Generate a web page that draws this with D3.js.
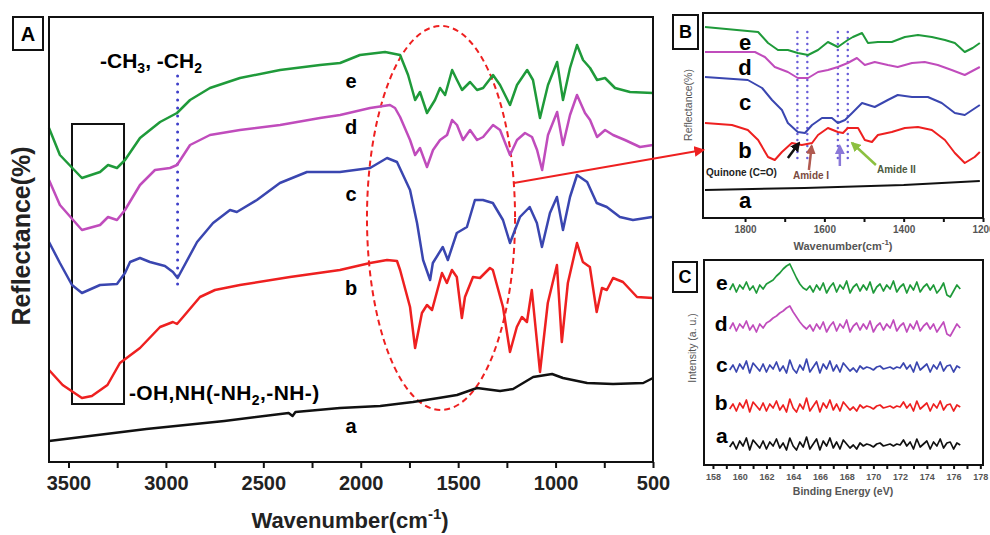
<!DOCTYPE html>
<html>
<head>
<meta charset="utf-8">
<script src="https://cdn.jsdelivr.net/npm/d3@7"></script>
<style>
  body { margin: 0; background: #fff; }
  text { font-family: Arial, "Liberation Sans", sans-serif; }
</style>
</head>
<body>
<svg id="fig" width="990" height="535"></svg>
<script>
// ---- Panel A : FTIR spectra, [wavenumber, reflectance (a.u.)]
var ftirA_a = [[3600,21],[3100,33],[2700,41],[2370,49],[2350,46],[2335,50],[2107,54],[1900,56],[1732,60],[1600,64],
  [1506,67],[1403,74],[1285,71],[1218,73],[1115,85],[1018,88],[962,84],[838,79],[705,78],[550,79],[500,84]];
var ftirA_b = [[3600,92],[3530,77],[3431,64],[3380,66],[3300,77],[3236,99],[3133,114],[3030,135],[2964,140],[2943,138],
  [2912,145],[2825,165],[2748,172],[2620,177],[2363,185],[2107,192],[1952,199],[1865,202],[1814,201],[1798,192],
  [1747,155],[1721,114],[1686,149],[1660,157],[1634,152],[1583,189],[1558,179],[1532,192],[1507,185],[1481,144],
  [1465,165],[1424,185],[1388,184],[1337,194],[1322,192],[1270,155],[1234,110],[1199,135],[1173,145],[1147,140],
  [1122,172],[1080,90],[1040,159],[993,197],[968,120],[937,179],[890,219],[860,200],[824,195],[789,150],
  [762,174],[737,172],[705,184],[654,180],[582,165],[500,164]];
var ftirA_c = [[3600,220],[3544,199],[3482,177],[3431,169],[3338,177],[3251,178],[3210,189],[3184,200],[3133,204],[3082,200],
  [3005,196],[2964,190],[2940,184],[2840,220],[2758,239],[2671,252],[2636,250],[2533,262],[2415,279],[2276,290],
  [2107,290],[1952,294],[1865,304],[1814,300],[1747,272],[1711,239],[1680,202],[1644,182],[1630,199],[1579,215],
  [1553,202],[1507,229],[1455,235],[1414,262],[1373,262],[1322,259],[1270,242],[1234,219],[1183,245],[1133,255],
  [1096,239],[1070,215],[1029,249],[993,265],[962,232],[926,265],[890,287],[838,280],[789,259],[737,255],
  [670,245],[603,242],[505,245]];
var ftirA_d = [[3600,282],[3544,257],[3431,232],[3338,237],[3297,245],[3251,242],[3210,252],[3133,277],[3056,292],[2979,294],
  [2943,297],[2876,317],[2774,327],[2620,332],[2414,337],[2209,344],[2106,347],[1952,354],[1850,357],[1824,354],
  [1798,345],[1747,322],[1721,307],[1696,314],[1660,295],[1629,312],[1593,322],[1557,327],[1531,342],[1506,337],
  [1475,322],[1439,332],[1403,322],[1372,325],[1321,337],[1285,332],[1234,307],[1198,322],[1157,329],[1121,325],
  [1095,312],[1069,292],[1039,327],[992,350],[962,317],[926,347],[890,367],[849,349],[823,342],[787,325],
  [746,332],[705,327],[644,322],[567,315],[500,317]];
var ftirA_e = [[3600,334],[3544,307],[3431,284],[3338,290],[3297,297],[3251,294],[3210,302],[3133,324],[3030,340],[2943,349],
  [2876,362],[2774,374],[2620,384],[2414,392],[2209,397],[2106,399],[2004,407],[1875,410],[1798,407],[1757,387],
  [1721,362],[1696,370],[1660,349],[1619,362],[1593,374],[1567,367],[1531,392],[1506,382],[1480,372],[1439,380],
  [1403,372],[1372,374],[1321,387],[1285,377],[1234,357],[1198,377],[1146,392],[1116,382],[1080,344],[1039,377],
  [992,400],[962,362],[926,394],[890,417],[859,402],[823,394],[787,382],[746,384],[695,374],[618,370],[500,369]];
var ticksA = [3500, 3000, 2500, 2000, 1500, 1000, 500];
var minorA = [3250, 2750, 2250, 1750, 1250, 750];
var labelsA = [["a", 29], ["b", 167], ["c", 261], ["d", 328], ["e", 374]];

// ---- Panel B : zoom 1906-1200 cm-1
var ftirB_a = [[1901,28],[1650,30],[1400,33],[1208,37]];
var ftirB_b = [[1901,95],[1833,93],[1793,88],[1767,78],[1742,61],[1725,58],[1707,66],[1682,75],[1657,73],[1631,75],
  [1616,83],[1591,90],[1566,86],[1553,85],[1541,90],[1515,90],[1498,78],[1480,76],[1465,83],[1430,86],
  [1397,90],[1364,91],[1329,88],[1296,78],[1271,65],[1246,55],[1221,61],[1208,66]];
var ftirB_c = [[1901,141],[1793,138],[1757,130],[1732,118],[1707,108],[1692,95],[1667,86],[1649,85],[1631,93],[1606,100],
  [1581,100],[1566,95],[1548,98],[1530,105],[1505,115],[1473,111],[1440,118],[1415,123],[1379,121],[1339,121],
  [1304,115],[1271,105],[1246,103],[1208,113]];
var ftirB_d = [[1901,166],[1775,166],[1750,161],[1725,151],[1692,146],[1667,140],[1641,140],[1616,146],[1591,148],[1566,151],
  [1541,155],[1518,160],[1498,153],[1473,156],[1440,153],[1415,151],[1379,155],[1347,156],[1314,153],[1279,148],
  [1246,143],[1208,151]];
var ftirB_e = [[1901,191],[1767,186],[1742,175],[1717,168],[1692,168],[1667,165],[1641,163],[1616,168],[1591,176],[1566,171],
  [1541,178],[1528,181],[1505,185],[1490,175],[1465,176],[1430,176],[1397,181],[1364,183],[1329,181],[1296,178],
  [1271,175],[1246,166],[1226,170],[1208,175]];
var ticksB = [1800, 1600, 1400, 1200];
var minorB = [1700, 1500, 1300];
var bandsB = [1668, 1643, 1566, 1541];
var labelsB = [["a", 10], ["b", 60], ["c", 108], ["d", 143], ["e", 168]];

// ---- Panel C : XPS S 2p region
var xpsEnergy = d3.range(159.25, 176.75, 0.25);
var xps_a = [18,23,16,24,19,27,15,25,21,17, 24,16,23,19,26,17,22,15,27,19, 15,23,18,28,16,21,26,15,24,19,
  27,17,23,16,25,21,17,20,16,22, 19,21,20,18,21,22,19,20,21,19, 21,20,25,19,23,16,26,18,21,24, 16,23,19,26,17,22,23,16,22,20];
var xps_b = [56,61,54,62,57,65,53,63,59,55, 62,54,61,57,64,55,60,53,66,57, 53,61,56,67,54,59,64,53,62,57,
  65,55,61,54,63,59,55,58,54,60, 57,59,58,56,59,60,57,58,59,57, 59,58,63,57,61,54,64,56,59,62, 54,61,57,64,55,60,61,54,60,58];
var xps_c = [95,100,93,101,96,104,92,102,98,94, 101,93,100,96,103,94,99,92,105,96, 92,100,95,106,93,98,103,92,101,96,
  104,94,100,93,102,98,94,97,93,99, 96,98,97,95,98,99,96,97,98,96, 98,97,102,96,100,93,103,95,98,101, 93,100,96,103,94,99,100,93,99,97];
var xps_d = [136,142,134,141,137,144,135,140,133,141,137, 142,144,147,149,152,154,157,159,153,148,143,139,136,
  140,134,141,136,143,133,139,143,134,141, 137,145,133,139,142,135,141,136,144,133, 139,142,135,141,137,145,134,139,142,133,
  141,136,144,134,139,142,136,141,133,138, 143,131,129,135,141,137];
var xps_e = [175,181,173,180,176,183,175,179,172,180,176, 181,183,185,189,192,196,199,201,194,187,181,177,175,
  179,173,180,175,182,172,178,182,173,180, 176,184,172,178,181,174,180,175,183,172, 178,181,174,180,176,184,173,178,181,172,
  180,175,183,173,178,181,175,180,172,176, 182,170,168,174,180,176];
var ticksC = [158,160,162,164,166,168,170,172,174,176,178];
var minorC = [159,161,163,165,167,169,171,173,175,177];
var labelsC = [["a", 22], ["b", 55], ["c", 93], ["d", 134], ["e", 175]];

var colors = {a: "#111111", b: "#ee2020", c: "#3a46b0", d: "#c04cbc", e: "#1f9a3a"};

var svg = d3.select("#fig");
var defs = svg.append("defs");
function marker(id, color, size) {
  defs.append("marker").attr("id", id)
    .attr("viewBox", "0 0 10 10").attr("refX", 8).attr("refY", 5)
    .attr("markerWidth", size).attr("markerHeight", size).attr("orient", "auto")
    .append("path").attr("d", "M0,0 L10,5 L0,10 z").attr("fill", color);
}
marker("arRed", "#ee2020", 6);
marker("arBlack", "#111", 4);
marker("arBrown", "#b05a50", 4);
marker("arPurple", "#8a78d8", 4);
marker("arGreen", "#8cc040", 4);

function panelBox(x, y, w, h, letter, fs) {
  svg.append("rect").attr("x", x).attr("y", y).attr("width", w).attr("height", h)
    .attr("fill", "none").attr("stroke", "#111").attr("stroke-width", 2);
  svg.append("text").attr("x", x + w / 2).attr("y", y + h / 2 + fs * 0.36)
    .attr("text-anchor", "middle").attr("font-weight", "bold").attr("font-size", fs).text(letter);
}

function drawAxis(g, scale, major, minor, y, size, fs, color, pad) {
  var ax = g.append("g").attr("transform", "translate(0," + y + ")")
    .call(d3.axisBottom(scale).tickValues(major).tickSize(size).tickPadding(pad).tickFormat(d3.format("d")));
  ax.select(".domain").remove();
  ax.selectAll("line").attr("stroke", "#111").attr("stroke-width", 2);
  ax.selectAll("text").attr("font-size", fs).attr("font-weight", "bold").attr("fill", color)
    .attr("font-family", "Arial, 'Liberation Sans', sans-serif");
  var mx = g.append("g").attr("transform", "translate(0," + y + ")")
    .call(d3.axisBottom(scale).tickValues(minor).tickSize(size).tickFormat(""));
  mx.select(".domain").remove();
  mx.selectAll("line").attr("stroke", "#111").attr("stroke-width", 2);
}

// ================= Panel A
var xA = d3.scaleLinear().domain([3600, 500]).range([49, 653]);
var yA = d3.scaleLinear().domain([0, 445]).range([462, 17]);
var gA = svg.append("g");
var lineA = d3.line().x(function(d) { return xA(d[0]); }).y(function(d) { return yA(d[1]); });

// annotations behind curves
var ell = {w: 1588, v: 244, rw: 380, rv: 192};
gA.append("ellipse")
  .attr("cx", xA(ell.w)).attr("cy", yA(ell.v))
  .attr("rx", xA(ell.w - ell.rw) - xA(ell.w)).attr("ry", yA(0) - yA(ell.rv))
  .attr("fill", "none").attr("stroke", "#ee2020").attr("stroke-width", 2)
  .attr("stroke-dasharray", "6,4");

gA.append("rect")
  .attr("x", xA(3482)).attr("y", yA(338))
  .attr("width", xA(3215) - xA(3482)).attr("height", yA(58) - yA(338))
  .attr("fill", "none").attr("stroke", "#111").attr("stroke-width", 2);

gA.append("line")
  .attr("x1", xA(2940)).attr("x2", xA(2940)).attr("y1", yA(386)).attr("y2", yA(174))
  .attr("stroke", "#3f3fc8").attr("stroke-width", 3).attr("stroke-linecap", "round")
  .attr("stroke-dasharray", "0,8");

[["a", ftirA_a], ["b", ftirA_b], ["c", ftirA_c], ["d", ftirA_d], ["e", ftirA_e]].forEach(function(s) {
  gA.append("path").datum(s[1]).attr("d", lineA)
    .attr("fill", "none").attr("stroke", colors[s[0]]).attr("stroke-width", 2.5)
    .attr("stroke-linejoin", "round");
});

labelsA.forEach(function(l) {
  gA.append("text").attr("x", xA(2050)).attr("y", yA(l[1]))
    .attr("text-anchor", "middle").attr("font-weight", "bold").attr("font-size", 20).text(l[0]);
});

var ch = gA.append("text").attr("x", 100).attr("y", 68).attr("font-weight", "bold").attr("font-size", 21);
ch.append("tspan").text("-CH");
ch.append("tspan").attr("dy", 5).attr("font-size", 14).text("3");
ch.append("tspan").attr("dy", -5).text(", -CH");
ch.append("tspan").attr("dy", 5).attr("font-size", 14).text("2");

var oh = gA.append("text").attr("x", xA(3190)).attr("y", yA(62)).attr("font-weight", "bold")
  .attr("font-size", 21).attr("letter-spacing", 0.4);
oh.append("tspan").text("-OH,NH(-NH");
oh.append("tspan").attr("dy", 5).attr("font-size", 14).text("2");
oh.append("tspan").attr("dy", -5).text(",-NH-)");

gA.append("rect").attr("x", 49).attr("y", 17).attr("width", 604).attr("height", 445)
  .attr("fill", "none").attr("stroke", "#111").attr("stroke-width", 2);
drawAxis(gA, xA, ticksA, minorA, 462, 6, 20, "#222", 8);

var wl = gA.append("text").attr("x", 350).attr("y", 528).attr("text-anchor", "middle")
  .attr("font-weight", "bold").attr("font-size", 22).attr("fill", "#222");
wl.append("tspan").text("Wavenumber(cm");
wl.append("tspan").attr("dy", -9).attr("font-size", 15).text("-1");
wl.append("tspan").attr("dy", 9).text(")");

gA.append("text").attr("transform", "translate(30,236) rotate(-90)").attr("text-anchor", "middle")
  .attr("font-weight", "bold").attr("font-size", 25).attr("fill", "#222").text("Reflectance(%)");

panelBox(13, 17, 30, 33, "A", 20);

// ================= Panel B
var xB = d3.scaleLinear().domain([1906, 1200]).range([703, 983]);
var yB = d3.scaleLinear().domain([0, 205]).range([218, 13]);
var gB = svg.append("g");
var lineB = d3.line().x(function(d) { return xB(d[0]); }).y(function(d) { return yB(d[1]); });

bandsB.forEach(function(w) {
  gB.append("line").attr("x1", xB(w)).attr("x2", xB(w)).attr("y1", yB(186)).attr("y2", yB(58))
    .attr("stroke", "#6a5ed8").attr("stroke-width", 2.5).attr("stroke-linecap", "round")
    .attr("stroke-dasharray", "0,6");
});

[["a", ftirB_a], ["b", ftirB_b], ["c", ftirB_c], ["d", ftirB_d], ["e", ftirB_e]].forEach(function(s) {
  gB.append("path").datum(s[1]).attr("d", lineB)
    .attr("fill", "none").attr("stroke", colors[s[0]]).attr("stroke-width", 2)
    .attr("stroke-linejoin", "round");
});

labelsB.forEach(function(l) {
  gB.append("text").attr("x", xB(1800)).attr("y", yB(l[1]))
    .attr("text-anchor", "middle").attr("font-weight", "bold").attr("font-size", 22).text(l[0]);
});

function arrowB(w1, v1, w2, v2, color, id) {
  gB.append("line").attr("x1", xB(w1)).attr("y1", yB(v1)).attr("x2", xB(w2)).attr("y2", yB(v2))
    .attr("stroke", color).attr("stroke-width", 2.5).attr("marker-end", "url(#" + id + ")");
}
arrowB(1692, 60, 1664, 75, "#111", "arBlack");
arrowB(1639, 48, 1632, 72, "#b05a50", "arBrown");
arrowB(1561, 52, 1561, 72, "#8a78d8", "arPurple");
arrowB(1470, 53, 1530, 75, "#8cc040", "arGreen");

gB.append("text").attr("x", 706).attr("y", 176).attr("font-weight", "bold").attr("font-size", 10)
  .attr("fill", "#222").text("Quinone (C=O)");
gB.append("text").attr("x", 793).attr("y", 179).attr("font-family", "'Liberation Serif', serif")
  .attr("font-weight", "bold").attr("font-size", 10).attr("fill", "#7a4a40").text("Amide I");
gB.append("text").attr("x", 877).attr("y", 173).attr("font-family", "'Liberation Serif', serif")
  .attr("font-weight", "bold").attr("font-size", 10).attr("fill", "#4d5a40").text("Amide II");

gB.append("rect").attr("x", 703).attr("y", 13).attr("width", 280).attr("height", 205)
  .attr("fill", "none").attr("stroke", "#111").attr("stroke-width", 2);
drawAxis(gB, xB, ticksB, minorB, 218, 4, 10, "#555", 4);

var wlB = gB.append("text").attr("x", 843).attr("y", 250).attr("text-anchor", "middle")
  .attr("font-weight", "bold").attr("font-size", 11).attr("fill", "#555");
wlB.append("tspan").text("Wavenumber(cm");
wlB.append("tspan").attr("dy", -5).attr("font-size", 8).text("-1");
wlB.append("tspan").attr("dy", 5).text(")");

gB.append("text").attr("transform", "translate(692,105) rotate(-90)").attr("text-anchor", "middle")
  .attr("font-size", 10.5).attr("fill", "#555").text("Reflectance(%)");

panelBox(673, 15, 25, 34, "B", 18);

// connector from ellipse to panel B
var ang = Math.asin((yA(ell.v) - 183) / (yA(0) - yA(ell.rv)));
svg.append("line")
  .attr("x1", xA(ell.w) + (xA(ell.w - ell.rw) - xA(ell.w)) * Math.cos(ang)).attr("y1", 183)
  .attr("x2", xB.range()[0]).attr("y2", yB(68))
  .attr("stroke", "#ee2020").attr("stroke-width", 1.8).attr("marker-end", "url(#arRed)");

// ================= Panel C
var xC = d3.scaleLinear().domain([157.33, 178.2]).range([704, 983]);
var yC = d3.scaleLinear().domain([0, 205]).range([465, 260]);
var gC = svg.append("g");
var lineC = d3.line().x(function(d, i) { return xC(xpsEnergy[i]); }).y(function(d) { return yC(d); });

[["a", xps_a], ["b", xps_b], ["c", xps_c], ["d", xps_d], ["e", xps_e]].forEach(function(s) {
  gC.append("path").datum(s[1]).attr("d", lineC)
    .attr("fill", "none").attr("stroke", colors[s[0]]).attr("stroke-width", 1.7)
    .attr("stroke-linejoin", "round");
});

labelsC.forEach(function(l) {
  gC.append("text").attr("x", xC(159.1)).attr("y", yC(l[1]))
    .attr("text-anchor", "end").attr("font-weight", "bold").attr("font-size", 21).text(l[0]);
});

gC.append("rect").attr("x", 704).attr("y", 260).attr("width", 279).attr("height", 205)
  .attr("fill", "none").attr("stroke", "#111").attr("stroke-width", 2);
drawAxis(gC, xC, ticksC, minorC, 465, 4, 9, "#555", 5);

gC.append("text").attr("x", 843).attr("y", 495).attr("text-anchor", "middle")
  .attr("font-weight", "bold").attr("font-size", 10.5).attr("fill", "#555").text("Binding Energy (eV)");
gC.append("text").attr("transform", "translate(696,348) rotate(-90)").attr("text-anchor", "middle")
  .attr("font-size", 10.5).attr("fill", "#555").text("Intensity (a. u.)");

panelBox(673, 262, 24, 30, "C", 18);
</script>
</body>
</html>
